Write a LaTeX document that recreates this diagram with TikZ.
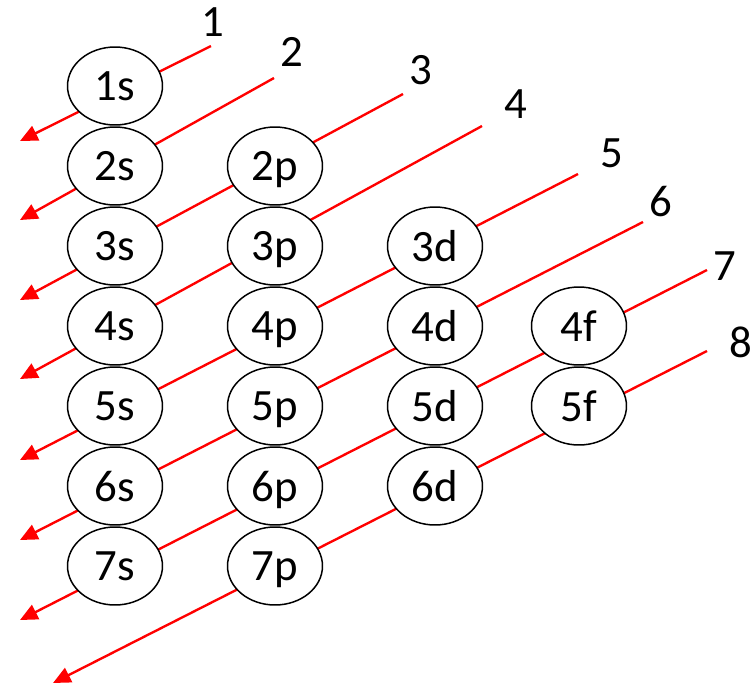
\documentclass[tikz,border=0pt]{standalone}
\usepackage{fontspec}
\setmainfont{Carlito}
\usetikzlibrary{arrows.meta,shapes.geometric}

\tikzset{
  orb/.style={ellipse, draw=black, line width=0.85pt, fill=white,
    minimum width=1.9cm, minimum height=1.56cm, inner sep=0pt,
    text depth=0pt, font=\fontsize{25.5}{30}\selectfont},
  num/.style={inner sep=0pt, font=\fontsize{25.5}{30}\selectfont},
  redarrow/.style={draw=red, line width=1.35pt, -{Triangle[length=10pt,width=9pt]}}
}

\begin{document}
\begin{tikzpicture}[x=0.02cm, y=-0.02cm]
        \useasboundingbox (0,0) rectangle (755,691);
        % start and tip of every arrow
        \foreach \n/\sx/\sy/\tx/\ty in {1/211/46/20/141, 2/274/78/20/220,
            3/403/94/20/300, 4/482/126/20/379, 5/578/174/20/460,
            6/643/222/20/540, 7/707/270/20/620, 8/707/351/53/683}
        {
        \coordinate (a\n) at (\sx,\sy);
        \coordinate (t\n) at (\tx,\ty);
        \draw[redarrow] (a\n) -- (t\n);
        }
        % the orbitals, column by column
        \foreach \l/\x/\first/\last in {s/115/1/7, p/275/2/7, d/435/3/6, f/579/4/5}
        {
        \foreach \n in {\first,...,\last}
          \node[orb] (\l\n) at (\x,{86+80*(\n-1)}) {\n\l};
        }
        % numbers at the start of the arrows
        \node[num] (n1) at (213,22) {1};
        \node[num] (n2) at (292,52) {2};
        \node[num] (n3) at (421,70) {3};
        \node[num] (n4) at (516,104) {4};
        \node[num] (n5) at (612,153) {5};
        \node[num] (n6) at (661,202) {6};
        \node[num] (n7) at (725,266) {7};
        \node[num] (n8) at (741,342) {8};
    \end{tikzpicture}
\end{document}
